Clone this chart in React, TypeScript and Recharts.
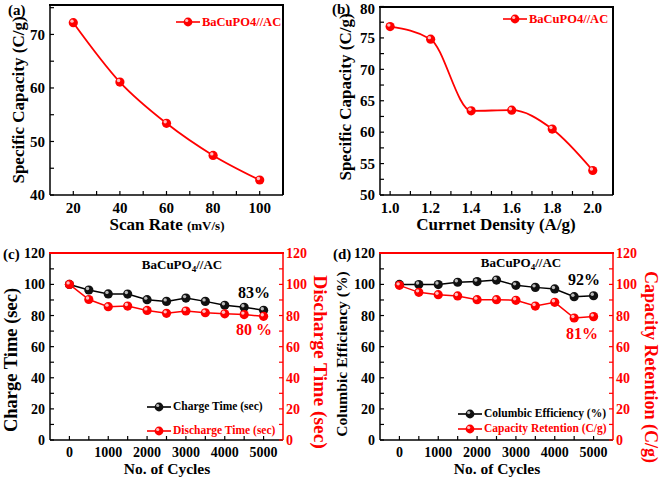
import React from "react";
import { LineChart, Line, XAxis, YAxis, Legend } from "recharts";

const FONT = "'Liberation Serif', 'Times New Roman', serif";
const RED = "#ff0000";
const BLACK = "#000000";

// (a) specific capacity vs scan rate
const scanRate = [20, 40, 60, 80, 100];
const capByScan = [72.2, 61.1, 53.4, 47.4, 42.8];

// (b) specific capacity vs current density
const currentDensity = [1.0, 1.2, 1.4, 1.6, 1.8, 2.0];
const capByCurrent = [76.8, 74.8, 63.4, 63.5, 60.5, 53.9];

// (c), (d) cycling
const cycles = [0, 500, 1000, 1500, 2000, 2500, 3000, 3500, 4000, 4500, 5000];
const chargeTime = [100, 96.4, 93.9, 93.8, 90.2, 89.1, 91.2, 89.1, 86.6, 85.3, 83.4];
const dischargeTime = [100, 90.3, 85.7, 86.1, 83.3, 81.4, 82.9, 81.8, 81.1, 80.6, 79.5];
const columbicEff = [100, 99.9, 99.9, 101.4, 101.8, 102.8, 99.4, 98.1, 97.1, 92.1, 92.7];
const capRetention = [99.4, 94.9, 93.4, 92.6, 90.2, 90.2, 89.8, 86.1, 88.5, 78.4, 79.3];

const ticksA_X = [20, 30, 40, 50, 60, 70, 80, 90, 100];
const ticksA_Y = [40, 45, 50, 55, 60, 65, 70, 75];
const ticksB_X = [1.0, 1.1, 1.2, 1.3, 1.4, 1.5, 1.6, 1.7, 1.8, 1.9, 2.0];
const ticksB_Y = [50, 52.5, 55, 57.5, 60, 62.5, 65, 67.5, 70, 72.5, 75, 77.5, 80];
const ticksCyc = [0, 500, 1000, 1500, 2000, 2500, 3000, 3500, 4000, 4500, 5000];
const ticksPct = [0, 10, 20, 30, 40, 50, 60, 70, 80, 90, 100, 110, 120];

const dataA = scanRate.map((x, i) => ({ x, y: capByScan[i] }));
const dataB = currentDensity.map((x, i) => ({ x, y: capByCurrent[i] }));
const dataC = cycles.map((x, i) => ({ x, a: chargeTime[i], b: dischargeTime[i] }));
const dataD = cycles.map((x, i) => ({ x, a: columbicEff[i], b: capRetention[i] }));

// plot box in chart pixels (follows from the margins / axis sizes below)
const PLOT_L = 50;
const PLOT_R = 283;

const ball = (fill: string, hi: string) => (p: any) => {
  if (p.cx == null || p.cy == null) return <g key={p.index} />;
  return (
    <g key={p.index}>
      <circle cx={p.cx} cy={p.cy} r={4.6} fill={fill} />
      <circle cx={p.cx - 1.3} cy={p.cy - 1.5} r={1.7} fill={hi} />
    </g>
  );
};
const redBall = ball(RED, "#ffc0c0");
const blackBall = ball("#111", "#bbbbbb");

const txt = (size: number, color = BLACK) => ({
  fontFamily: FONT,
  fontWeight: "bold" as const,
  fontSize: size,
  fill: color,
});

const vTitle = (text: string, x: number, y: number, rot: number, color = BLACK, size = 17) => () =>
  (
    <text x={x} y={y} transform={`rotate(${rot} ${x} ${y})`} textAnchor="middle" dominantBaseline="central" style={txt(size, color)}>
      {text}
    </text>
  );

type Item = { label: string; color: string; black?: boolean };

const LegendBox = ({ items, left, top, size, gap }: { items: Item[]; left: number; top: number; size: number; gap: number }) => (
  <div style={{ position: "absolute", left, top, width: 200, fontFamily: FONT, fontWeight: "bold", fontSize: size, lineHeight: 1 }}>
    {items.map((it) => (
      <div key={it.label} style={{ display: "flex", alignItems: "center", height: gap, color: it.color, whiteSpace: "nowrap" }}>
        <svg width={24} height={12} style={{ marginRight: 2, flexShrink: 0 }}>
          <line x1={0} y1={6} x2={24} y2={6} stroke={it.color} strokeWidth={1.6} />
          <circle cx={12} cy={6} r={4.4} fill={it.black ? "#111" : RED} />
          <circle cx={10.7} cy={4.5} r={1.6} fill={it.black ? "#bbb" : "#ffc0c0"} />
        </svg>
        <span>{it.label}</span>
      </div>
    ))}
  </div>
);

// top / right border of the plot box, as a css-bordered box laid over the chart
const Frame = ({ top, bottom, color, right }: { top: number; bottom: number; color: string; right: boolean }) => (
  <div
    style={{
      position: "absolute",
      left: PLOT_L - 1,
      top: Math.round(top) - 1,
      width: PLOT_R - PLOT_L + 2,
      height: bottom - Math.round(top) + 1,
      boxSizing: "border-box",
      borderTop: `2px solid ${color}`,
      borderRight: right ? `2px solid ${color}` : "none",
      zIndex: 30,
      pointerEvents: "none",
    }}
  />
);

const axisLine = (c: string) => ({ stroke: c, strokeWidth: 1.5 });

function PanelA() {
  return (
    <LineChart width={330} height={240} data={dataA} margin={{ top: 5, right: 47, bottom: 0, left: 0 }}>
      <XAxis
        dataKey="x"
        type="number"
        domain={[10, 110]}
        ticks={ticksA_X}
        tickFormatter={(v) => (v % 20 === 0 ? String(v) : "")}
        height={45}
        tickSize={-4}
        tickMargin={11}
        axisLine={axisLine(BLACK)}
        tickLine={{ stroke: BLACK, strokeWidth: 1.2 }}
        tick={txt(15)}
        label={() => (
          <text x={167} y={230} textAnchor="middle" style={txt(17)}>
            Scan Rate <tspan style={{ fontSize: 13 }}>(mV/s)</tspan>
          </text>
        )}
      />
      <YAxis
        type="number"
        domain={[40, 75.5]}
        ticks={ticksA_Y}
        tickFormatter={(v) => (v % 10 === 0 ? String(v) : "")}
        width={50}
        tickSize={-4}
        tickMargin={9}
        axisLine={axisLine(BLACK)}
        tickLine={{ stroke: BLACK, strokeWidth: 1.2 }}
        tick={txt(15)}
        label={vTitle("Specific Capacity (C/g)", 18, 100, -90)}
      />
      <Legend
        verticalAlign="middle"
        layout="horizontal"
        content={() => <LegendBox items={[{ label: "BaCuPO4//AC", color: RED }]} left={176} top={15} size={12.5} gap={14} />}
        wrapperStyle={{ position: "absolute", left: 0, top: 0, width: 0, height: 0 }}
      />
      <Line type="monotone" dataKey="y" stroke={RED} strokeWidth={1.8} dot={redBall} isAnimationActive={false} />
    </LineChart>
  );
}

function PanelB() {
  return (
    <LineChart width={330} height={240} data={dataB} margin={{ top: 6.5, right: 47, bottom: 0, left: 0 }}>
      <XAxis
        dataKey="x"
        type="number"
        domain={[0.95, 2.1]}
        ticks={ticksB_X}
        tickFormatter={(v) => (Math.round(v * 10) % 2 === 0 ? v.toFixed(1) : "")}
        height={45}
        tickSize={-4}
        tickMargin={11}
        axisLine={axisLine(BLACK)}
        tickLine={{ stroke: BLACK, strokeWidth: 1.2 }}
        tick={txt(15)}
        label={() => (
          <text x={166} y={230} textAnchor="middle" style={txt(17)}>
            Currnet Density (A/g)
          </text>
        )}
      />
      <YAxis
        type="number"
        domain={[50, 80]}
        ticks={ticksB_Y}
        tickFormatter={(v) => (v % 5 === 0 ? String(v) : "")}
        width={50}
        tickSize={-4}
        tickMargin={9}
        axisLine={axisLine(BLACK)}
        tickLine={{ stroke: BLACK, strokeWidth: 1.2 }}
        tick={txt(15)}
        label={vTitle("Specific Capacity (C/g)", 15, 97, -90)}
      />
      <Legend
        verticalAlign="middle"
        layout="horizontal"
        content={() => <LegendBox items={[{ label: "BaCuPO4//AC", color: RED }]} left={173} top={12} size={12.5} gap={14} />}
        wrapperStyle={{ position: "absolute", left: 0, top: 0, width: 0, height: 0 }}
      />
      <Line type="monotone" dataKey="y" stroke={RED} strokeWidth={1.8} dot={redBall} isAnimationActive={false} />
    </LineChart>
  );
}

function CyclePanel({
  data,
  leftTitle,
  rightTitle,
  leftY,
  rightY,
  leftSize,
  rightSize,
  legend,
  legendLeft,
  legendTop,
  legendGap,
  annBlack,
  annRed,
  tagX,
  tagY,
  ann,
}: any) {
  return (
    <LineChart width={330} height={240} data={data} margin={{ top: 13.3, right: 0, bottom: 0, left: 0 }}>
      <XAxis
        dataKey="x"
        type="number"
        domain={[-500, 5500]}
        ticks={ticksCyc}
        tickFormatter={(v) => (v % 1000 === 0 ? String(v) : "")}
        height={40}
        tickSize={-4}
        tickMargin={11}
        axisLine={axisLine(BLACK)}
        tickLine={{ stroke: BLACK, strokeWidth: 1.2 }}
        tick={txt(14)}
        label={() => (
          <g>
            <text x={167} y={234} textAnchor="middle" style={txt(15.5)}>
              No. of Cycles
            </text>
            <text x={tagX} y={tagY} textAnchor="middle" style={txt(13)}>
              BaCuPO<tspan dy={3} style={{ fontSize: 9 }}>4</tspan>
              <tspan dy={-3}>//AC</tspan>
            </text>
            <text x={ann[0]} y={ann[1]} style={txt(16)}>
              {annBlack}
            </text>
            <text x={ann[2]} y={ann[3]} style={txt(16, RED)}>
              {annRed}
            </text>
          </g>
        )}
      />
      <YAxis
        type="number"
        domain={[0, 120]}
        ticks={ticksPct}
        tickFormatter={(v) => (v % 20 === 0 ? String(v) : "")}
        width={50}
        tickSize={-4}
        tickMargin={9}
        axisLine={axisLine(BLACK)}
        tickLine={{ stroke: BLACK, strokeWidth: 1.2 }}
        tick={txt(14)}
        label={vTitle(leftTitle, 11, leftY, -90, BLACK, leftSize)}
      />
      <YAxis
        yAxisId="r"
        orientation="right"
        type="number"
        domain={[0, 120]}
        ticks={ticksPct}
        tickFormatter={(v) => (v % 20 === 0 ? String(v) : "")}
        width={47}
        tickSize={-4}
        tickMargin={7}
        axisLine={axisLine(RED)}
        tickLine={{ stroke: RED, strokeWidth: 1.2 }}
        tick={txt(14, RED)}
        label={vTitle(rightTitle, 320.5, rightY, 90, RED, rightSize)}
      />
      <Legend
        verticalAlign="middle"
        layout="horizontal"
        content={() => <LegendBox items={legend} left={legendLeft} top={legendTop} size={11.5} gap={legendGap} />}
        wrapperStyle={{ position: "absolute", left: 0, top: 0, width: 0, height: 0 }}
      />
      <Line type="linear" dataKey="a" stroke={BLACK} strokeWidth={1.5} dot={blackBall} isAnimationActive={false} />
      <Line type="linear" yAxisId="r" dataKey="b" stroke={RED} strokeWidth={1.5} dot={redBall} isAnimationActive={false} />
    </LineChart>
  );
}

const legendC: Item[] = [
  { label: "Charge Time (sec)", color: BLACK, black: true },
  { label: "Discharge Time (sec)", color: RED },
];
const legendD: Item[] = [
  { label: "Columbic Efficiency (%)", color: BLACK, black: true },
  { label: "Capacity Retention (C/g)", color: RED },
];

const Tag = ({ t, x, y }: { t: string; x: number; y: number }) => (
  <div style={{ position: "absolute", left: x, top: y, fontFamily: FONT, fontWeight: "bold", fontSize: 15, lineHeight: 1 }}>{t}</div>
);

export default function App() {
  return (
    <div style={{ position: "absolute", left: 0, top: 0, width: 661, height: 481, background: "#fff" }}>
      <div style={{ position: "absolute", left: 0, top: 0, width: 330, height: 240 }}>
        <PanelA />
        <Frame top={5} bottom={195} color={BLACK} right />
      </div>
      <div style={{ position: "absolute", left: 330, top: 0, width: 330, height: 240 }}>
        <PanelB />
        <Frame top={6.5} bottom={195} color={BLACK} right />
      </div>
      <div style={{ position: "absolute", left: 0, top: 240, width: 330, height: 240 }}>
        <CyclePanel
          data={dataC}
          leftTitle="Charge Time (sec)"
          rightTitle="Discharge Time (sec)"
          leftY={120}
          rightY={122}
          leftSize={18.5}
          rightSize={19.5}
          legend={legendC}
          legendLeft={147}
          legendTop={155}
          legendGap={24}
          annBlack="83%"
          annRed="80 %"
          tagX={182}
          tagY={29}
          ann={[238, 58, 236, 95]}
        />
        <Frame top={13.3} bottom={200} color={RED} right={false} />
      </div>
      <div style={{ position: "absolute", left: 330, top: 240, width: 330, height: 240 }}>
        <CyclePanel
          data={dataD}
          leftTitle="Columbic Efficiency (%)"
          rightTitle="Capacity Retention (C/g)"
          leftY={114}
          rightY={127}
          leftSize={15.6}
          rightSize={18}
          legend={legendD}
          legendLeft={128}
          legendTop={166}
          legendGap={15}
          annBlack="92%"
          annRed="81%"
          tagX={191}
          tagY={27}
          ann={[238, 45, 236, 99]}
        />
        <Frame top={13.3} bottom={200} color={RED} right={false} />
      </div>
      <Tag t="(a)" x={8} y={3} />
      <Tag t="(b)" x={332} y={2} />
      <Tag t="(c)" x={3} y={247} />
      <Tag t="(d)" x={333} y={247} />
    </div>
  );
}
